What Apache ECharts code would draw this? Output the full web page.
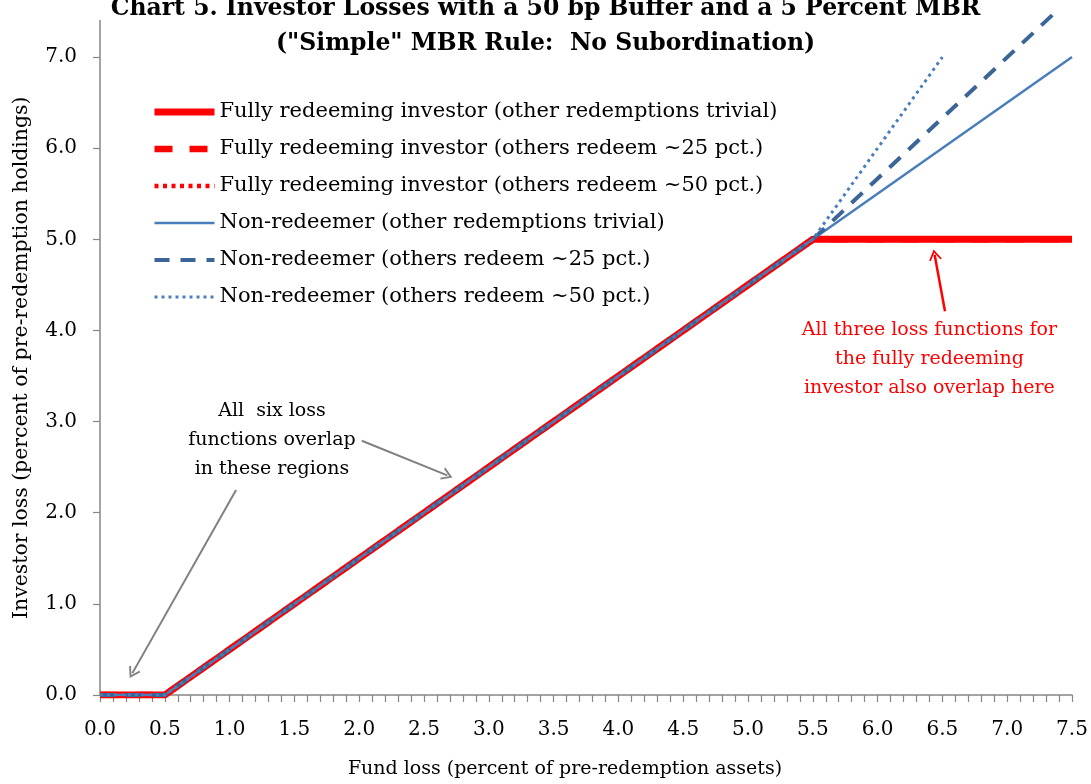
<!DOCTYPE html>
<html>
<head>
<meta charset="utf-8">
<script src="https://cdn.jsdelivr.net/npm/echarts@6/dist/echarts.min.js"></script>
<style>
html,body{margin:0;padding:0;background:#fff;}
#chart{width:1091px;height:784px;}
</style>
</head>
<body>
<div id="chart"></div>
<script>
// ---- data ----
const titleLines = ['Chart 5. Investor Losses with a 50 bp Buffer and a 5 Percent MBR', '("Simple" MBR Rule:  No Subordination)'];
const xAxisTitle = 'Fund loss (percent of pre-redemption assets)';
const yAxisTitle = 'Investor loss (percent of pre-redemption holdings)';
const seriesNames = [
  'Fully redeeming investor (other redemptions trivial)',
  'Fully redeeming investor (others redeem ~25 pct.)',
  'Fully redeeming investor (others redeem ~50 pct.)',
  'Non-redeemer (other redemptions trivial)',
  'Non-redeemer (others redeem ~25 pct.)',
  'Non-redeemer (others redeem ~50 pct.)'
];
// fund loss (x) and investor loss (y)
const redeemTrivialX = [0, 0.5, 5.5, 7.5];
const redeemTrivialY = [0, 0, 5.0, 5.0];
const redeem25X = [0, 0.5, 5.5, 7.5];
const redeem25Y = [0, 0, 5.0, 5.0];
const redeem50X = [0, 0.5, 5.5, 7.5];
const redeem50Y = [0, 0, 5.0, 5.0];
const nonTrivialX = [0, 0.5, 5.5, 7.5];
const nonTrivialY = [0, 0, 5.0, 7.0];
const non25X = [0, 0.5, 5.5, 7.4];
const non25Y = [0, 0, 5.0, 7.53];
const non50X = [0, 0.5, 5.5, 6.5];
const non50Y = [0, 0, 5.0, 7.0];
const yTickValues = [0, 1, 2, 3, 4, 5, 6, 7];
const noteSix = 'All  six loss\nfunctions overlap\nin these regions';
const noteThree = 'All three loss functions for\nthe fully redeeming\ninvestor also overlap here';
// annotation anchors (data coordinates)
const noteSixAt = [1.327, 2.80];
const noteThreeAt = [6.40, 3.69];
const arrowA = [[2.02, 2.79], [2.68, 2.41]];
const arrowB = [[1.05, 2.25], [0.25, 0.24]];
const arrowC = [[6.52, 4.21], [6.44, 4.83]];

const pair = (xs, ys) => xs.map((x, i) => [x, ys[i]]);

const FONT = 'DejaVu Serif';
const RED = '#FF0000';
const BLUE = '#4A7EBB';
const BLUE_D = '#3A6596';
const GREY = '#868686';
const chevron = 'path://M0,12 L6,0 L12,12 L10.4,12.8 L6,4 L1.6,12.8 Z';

const chart = echarts.init(document.getElementById('chart'), null, {renderer: 'canvas'});

function lineSeries(name, data, color, width, type, z, extra) {
  return Object.assign({
    name: name, type: 'line', data: data, showSymbol: false, symbol: 'none',
    z: z, animation: false,
    lineStyle: {color: color, width: width, type: type, cap: 'butt', join: 'round'},
    itemStyle: {color: color}
  }, extra || {});
}

const option = {
  animation: false,
  backgroundColor: '#fff',
  title: {
    text: titleLines.join('\n'),
    left: 'center',
    top: -14,
    textStyle: {fontFamily: FONT, fontWeight: 'bold', fontSize: 23.5, lineHeight: 35, color: '#000'}
  },
  grid: {left: 100, right: 19, top: 20.6, bottom: 85, containLabel: false},
  legend: {
    orient: 'vertical', left: 146, top: 95,
    itemWidth: 60, itemHeight: 14, itemGap: 13,
    data: seriesNames,
    itemStyle: {opacity: 0},
    lineStyle: {width: 'inherit'},
    textStyle: {fontFamily: FONT, fontSize: 21, lineHeight: 24, color: '#000'},
    selectedMode: false
  },
  xAxis: {
    type: 'value', min: 0, max: 7.5, interval: 0.5,
    name: xAxisTitle, nameLocation: 'middle', nameGap: 65,
    nameTextStyle: {fontFamily: FONT, fontSize: 19, color: '#000', padding: [0, 42, 0, 0]},
    axisLine: {show: true, onZero: false, lineStyle: {color: GREY, width: 1.5}},
    axisTick: {show: true, length: 7, lineStyle: {color: GREY, width: 1.2}},
    minorTick: {show: true, splitNumber: 5, length: 7, lineStyle: {color: GREY, width: 1.2}},
    splitLine: {show: false},
    axisLabel: {fontFamily: FONT, fontSize: 20, color: '#000', margin: 25,
      formatter: v => v.toFixed(1)}
  },
  yAxis: {
    type: 'value', min: 0, max: 7.4, interval: 1,
    name: yAxisTitle, nameLocation: 'middle', nameGap: 68,
    nameTextStyle: {fontFamily: FONT, fontSize: 20.4, color: '#000'},
    axisLine: {show: true, onZero: false, lineStyle: {color: GREY, width: 1.5}},
    axisTick: {show: true, length: 7, customValues: yTickValues, lineStyle: {color: GREY, width: 1.2}},
    splitLine: {show: false},
    axisLabel: {fontFamily: FONT, fontSize: 20, color: '#000', margin: 23,
      customValues: yTickValues, formatter: v => v.toFixed(1)}
  },
  series: [
    lineSeries(seriesNames[0], pair(redeemTrivialX, redeemTrivialY), RED, 7, 'solid', 2),
    lineSeries(seriesNames[1], pair(redeem25X, redeem25Y), RED, 6.5, [18, 17], 2),
    lineSeries(seriesNames[2], pair(redeem50X, redeem50Y), RED, 4.5, [4, 4.5], 2),
    lineSeries(seriesNames[3], pair(nonTrivialX, nonTrivialY), BLUE, 2.5, 'solid', 3),
    lineSeries(seriesNames[4], pair(non25X, non25Y), BLUE_D, 4, [15, 11], 3, {clip: false}),
    lineSeries(seriesNames[5], pair(non50X, non50Y), BLUE, 3, [3, 4], 3),
    {
      name: 'annotations', type: 'line', data: [], z: 5, silent: true,
      markLine: {
        silent: true, animation: false,
        symbol: ['none', chevron], symbolSize: [13, 11],
        label: {show: false},
        data: [
          [{coord: arrowA[0], lineStyle: {color: '#808080', width: 2, type: 'solid'}}, {coord: arrowA[1]}],
          [{coord: arrowB[0], lineStyle: {color: '#808080', width: 2, type: 'solid'}}, {coord: arrowB[1]}],
          [{coord: arrowC[0], lineStyle: {color: RED, width: 2.5, type: 'solid'}}, {coord: arrowC[1]}]
        ]
      },
      markPoint: {
        silent: true, animation: false, symbol: 'circle', symbolSize: 0,
        data: [
          {coord: noteSixAt, label: {show: true, position: 'inside', formatter: noteSix,
            fontFamily: FONT, fontSize: 19, lineHeight: 29, color: '#000', align: 'center'}},
          {coord: noteThreeAt, label: {show: true, position: 'inside', formatter: noteThree,
            fontFamily: FONT, fontSize: 19, lineHeight: 29, color: RED, align: 'center'}}
        ]
      }
    }
  ]
};
chart.setOption(option);
</script>
</body>
</html>
